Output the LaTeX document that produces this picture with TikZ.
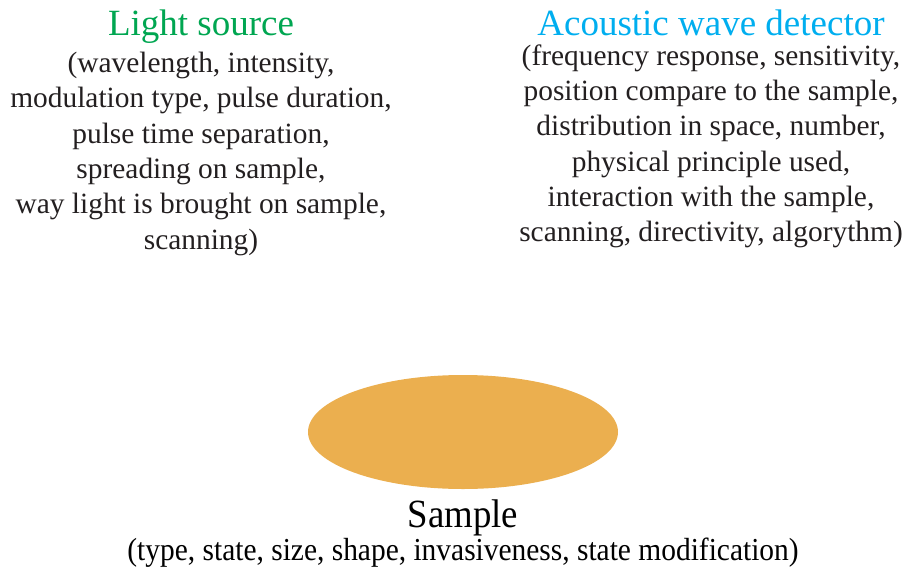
\documentclass[tikz,border=0pt]{standalone}
\usepackage{fontspec}
\setmainfont{Liberation Serif}
\newfontfamily\narrowserif[FakeStretch=0.92]{Liberation Serif}
\usepackage{xcolor}
\usetikzlibrary{positioning,shapes.geometric}
\definecolor{srcgreen}{HTML}{00A651}
\definecolor{detcyan}{HTML}{00AEEF}
\definecolor{txtgray}{HTML}{231F20}
\definecolor{samporange}{HTML}{EBAF4F}
\tikzset{
  ttl/.style={align=center, inner sep=0pt, font=\fontsize{37}{42}\selectfont},
  plist/.style={align=center, inner sep=0pt, text=txtgray, font=\fontsize{29.4}{35.3}\selectfont},
  blob/.style={ellipse, fill=samporange, draw=none, minimum width=310pt, minimum height=114pt, inner sep=0pt},
  slbl/.style={align=center, inner sep=0pt, text=black, font=\narrowserif\fontsize{40}{46}\selectfont},
  splist/.style={align=center, inner sep=0pt, text=black, font=\narrowserif\fontsize{32}{38}\selectfont},
}

\begin{document}
\begin{tikzpicture}[x=1pt, y=-1pt, node distance=8pt and 8pt]
\useasboundingbox (0,0) rectangle (907,570);
% ---- light source ----
\node[ttl, text=srcgreen, anchor=north] (src) at (201,10) {Light source};
\node[plist, below=8pt of src] (src_par) {(wavelength, intensity,\\modulation type, pulse duration,\\pulse time separation,\\spreading on sample,\\way light is brought on sample,\\scanning)};
% ---- detector ----
\node[ttl, text=detcyan, anchor=north] (det) at (711,10) {Acoustic wave detector};
\node[plist, below=8pt of det] (det_par) {(frequency response, sensitivity,\\position compare to the sample,\\distribution in space, number,\\physical principle used,\\interaction with the sample,\\scanning, directivity, algorythm)};
% ---- sample ----
\node[blob] (smp) at (463,432) {};
\node[slbl, below=10pt of smp] (smp_lbl) {Sample};
\node[splist, below=2pt of smp_lbl] (smp_par) {(type, state, size, shape, invasiveness, state modification)};
\end{tikzpicture}
\end{document}
